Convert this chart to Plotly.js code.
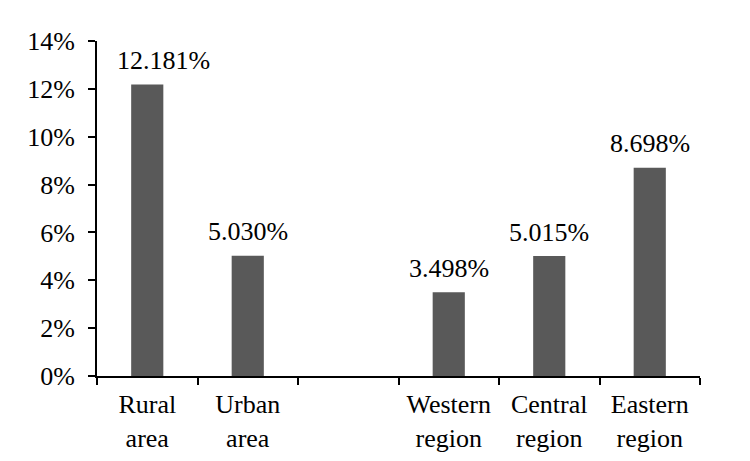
<!DOCTYPE html>
<html>
<head>
<meta charset="utf-8">
<script src="https://cdn.plot.ly/plotly-3.0.1.min.js"></script>
<style>html,body{margin:0;padding:0;background:#fff;}#chart{width:750px;height:461px;}</style>
</head>
<body>
<div id="chart"></div>
<script>
const categories = ["Rural<br>area", "Urban<br>area", " ", "Western<br>region", "Central<br>region", "Eastern<br>region"];
const values = [12.181, 5.030, null, 3.498, 5.015, 8.698];
const valueLabels = ["12.181%", "5.030%", "", "3.498%", "5.015%", "8.698%"];
const yTickVals = [0, 2, 4, 6, 8, 10, 12, 14];
const yTickText = ["0%", "2%", "4%", "6%", "8%", "10%", "12%", "14%"];

function mkFont() { return {family: "Liberation Serif", size: 26, color: "#000"}; }

const annotations = [];
categories.forEach((c, i) => {
  if (values[i] !== null) {
    annotations.push({
      x: c, y: values[i], xref: "x", yref: "y",
      text: valueLabels[i], showarrow: false,
      yanchor: "middle", yshift: 24,
      xshift: i === 0 ? 16 : 0,
      font: mkFont()
    });
  }
});

const data = [{
  type: "bar",
  x: categories,
  y: values,
  marker: {color: "#595959"},
  hoverinfo: "skip"
}];

const layout = {
  width: 750, height: 461,
  margin: {l: 97, r: 50, t: 41, b: 85},
  paper_bgcolor: "#fff", plot_bgcolor: "#fff",
  bargap: 0.68,
  showlegend: false,
  font: mkFont(),
  xaxis: {
    type: "category",
    showline: true, linecolor: "#000", linewidth: 2,
    ticks: "outside", tickson: "boundaries", ticklen: 7, tickwidth: 2, tickcolor: "#000",
    showgrid: false, zeroline: false,
    ticklabelstandoff: 4,
    tickfont: mkFont()
  },
  yaxis: {
    range: [0, 14],
    tickvals: yTickVals, ticktext: yTickText,
    showline: true, linecolor: "#000", linewidth: 2,
    ticks: "outside", ticklen: 7, tickwidth: 2, tickcolor: "#000",
    showgrid: false, zeroline: false,
    ticklabelstandoff: 8,
    tickfont: mkFont()
  },
  annotations: annotations
};

Plotly.newPlot("chart", data, layout, {displayModeBar: false, staticPlot: true});
</script>
</body>
</html>
